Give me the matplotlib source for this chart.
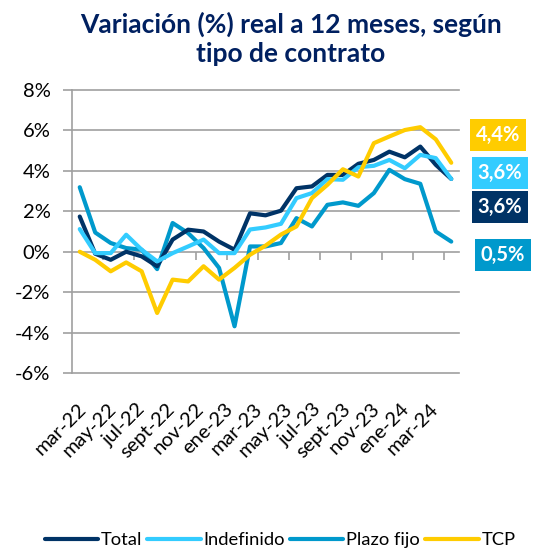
import numpy as np
import matplotlib
matplotlib.use("Agg")
import matplotlib.pyplot as plt

plt.rcParams['font.family'] = ['Lato', 'DejaVu Sans']

# datos mensuales mar-22 .. mar-24 (25 meses)
meses = ['mar-22', 'abr-22', 'may-22', 'jun-22', 'jul-22', 'ago-22', 'sept-22', 'oct-22',
         'nov-22', 'dic-22', 'ene-23', 'feb-23', 'mar-23', 'abr-23', 'may-23', 'jun-23',
         'jul-23', 'ago-23', 'sept-23', 'oct-23', 'nov-23', 'dic-23', 'ene-24', 'feb-24', 'mar-24']
total = [1.74, -0.1, -0.4, 0.0, -0.23, -0.72, 0.6, 1.09, 1.0, 0.5, 0.1, 1.9,
         1.8, 2.03, 3.14, 3.23, 3.8, 3.8, 4.35, 4.54, 4.95, 4.67, 5.2, 4.3, 3.6]
indefinido = [1.12, -0.07, -0.07, 0.84, 0.1, -0.48, -0.07, 0.26, 0.6, -0.07, -0.07, 1.1,
              1.2, 1.38, 2.65, 2.9, 3.59, 3.56, 4.18, 4.25, 4.54, 4.13, 4.79, 4.63, 3.6]
plazo_fijo = [3.19, 0.95, 0.43, 0.18, 0.1, -0.86, 1.42, 0.92, 0.18, -0.8, -3.69, 0.26,
              0.26, 0.43, 1.66, 1.25, 2.32, 2.44, 2.27, 2.9, 4.05, 3.59, 3.36, 1.0, 0.5]
tcp = [0.0, -0.4, -0.97, -0.53, -0.97, -3.03, -1.38, -1.47, -0.72, -1.38, -0.8, -0.15,
       0.3, 0.85, 1.25, 2.65, 3.31, 4.08, 3.72, 5.37, 5.7, 6.02, 6.16, 5.56, 4.4]

series = [('Total', total, '#003366'),
          ('Indefinido', indefinido, '#33CCFF'),
          ('Plazo fijo', plazo_fijo, '#0099CC'),
          ('TCP', tcp, '#FFCC00')]

# orden de dibujo (TCP encima)
orden = [2, 0, 1, 3]

etiquetas_x = ['mar-22', 'may-22', 'jul-22', 'sept-22', 'nov-22', 'ene-23', 'mar-23',
               'may-23', 'jul-23', 'sept-23', 'nov-23', 'ene-24', 'mar-24']

# etiquetas finales: texto, color, centro (px)
finales = [('4,4%', '#FFCC00', 498, 135),
           ('3,6%', '#33CCFF', 500, 173),
           ('3,6%', '#003366', 500, 207),
           ('0,5%', '#0099CC', 503, 255)]

gris = '#A0A0A0'
W, H = 552, 550
fig = plt.figure(figsize=(W / 100, H / 100), dpi=100)
ax = fig.add_axes([72 / W, 177 / H, 387 / W, 283 / H])

x = np.arange(len(meses))
lines = {}
for k in orden:
    nombre, vals, color = series[k]
    lines[nombre], = ax.plot(x, vals, color=color, lw=3.0, solid_capstyle='round',
                             solid_joinstyle='round', zorder=3, label=nombre)

ax.set_xlim(-0.5, len(meses) - 0.5)
ax.set_ylim(-6, 8)
ax.set_yticks(range(-6, 9, 2))
ax.set_yticklabels([f'{v}%' for v in range(-6, 9, 2)])
for v in range(-6, 9, 2):
    ax.axhline(v, color=gris, lw=1.2, zorder=1, clip_on=False)
ax.vlines(np.arange(1.5, len(meses) - 1, 2), -0.4, 0, color=gris, lw=1.2, zorder=1)

for s in ['top', 'right', 'bottom']:
    ax.spines[s].set_visible(False)
ax.spines['left'].set_color(gris)
ax.spines['left'].set_linewidth(1.2)
ax.tick_params(axis='y', colors=gris, length=9 * 0.72, width=1.2, pad=9,
               labelcolor='black', labelsize=14.5)

# etiquetas del eje x (Excel las comprime un poco)
pos_lab = 0.27 + np.arange(len(etiquetas_x)) * 1.894
ax.set_xticks(pos_lab)
ax.set_xticklabels(etiquetas_x, rotation=45, ha='right', va='center',
                   rotation_mode='anchor')
ax.tick_params(axis='x', length=0, pad=24, labelsize=14.5)

fig.text(291 / W, 1 - 39 / H, 'Variación (%) real a 12 meses, según\ntipo de contrato',
         ha='center', va='center', fontsize=19, fontweight='bold', color='#002060',
         linespacing=1.25)

for txt, col, cx, cy in finales:
    fig.text(cx / W, 1 - cy / H, txt, ha='center', va='center', fontsize=14.5,
             fontweight='bold', color='white',
             bbox=dict(boxstyle='square,pad=0.3', fc=col, ec='none'))

handles = [lines[s[0]] for s in series]
fig.legend(handles, [s[0] for s in series], loc='center', ncol=4,
           bbox_to_anchor=(280 / W, 1 - 540 / H), frameon=False, fontsize=13.2,
           handlelength=2.9, handletextpad=0.15, columnspacing=0.3)

fig.savefig('out.png', dpi=100)
